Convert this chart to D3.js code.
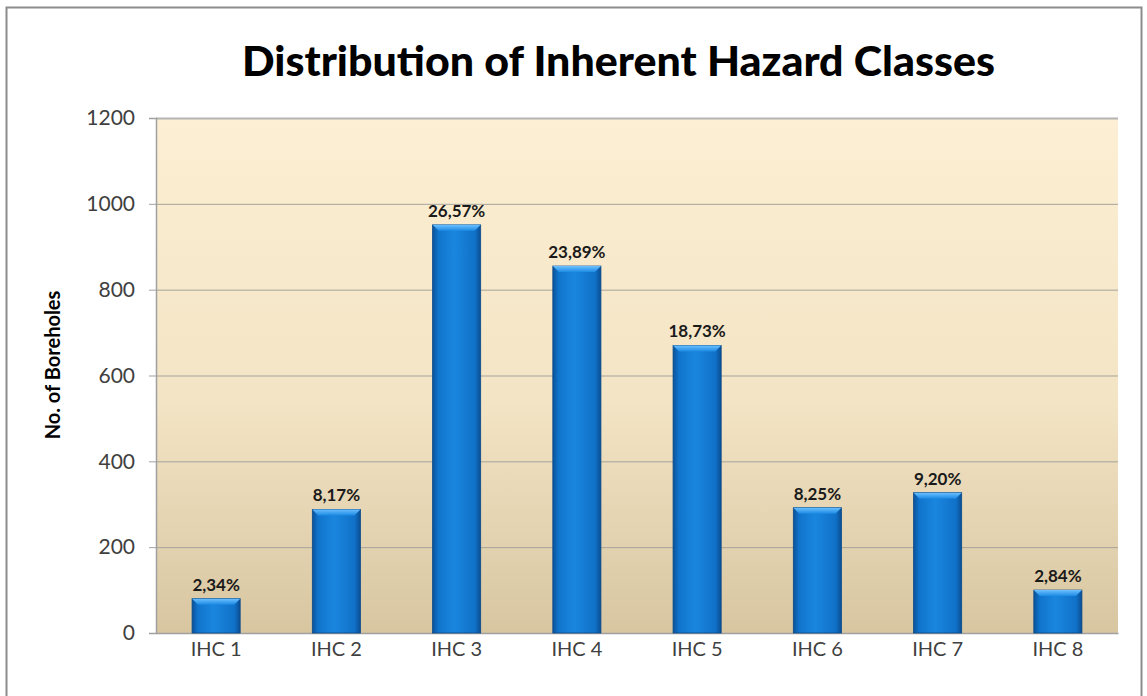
<!DOCTYPE html>
<html>
<head>
<meta charset="utf-8">
<script src="https://cdn.jsdelivr.net/npm/d3@7"></script>
<style>
  body { margin: 0; background: #fff; }
  svg { display: block; }
</style>
</head>
<body>
<script>
// values
const categories = ['IHC 1', 'IHC 2', 'IHC 3', 'IHC 4', 'IHC 5', 'IHC 6', 'IHC 7', 'IHC 8'];
const boreholes = [80, 288, 951, 855, 670, 292, 327, 100];
const percents = ['2,34%', '8,17%', '26,57%', '23,89%', '18,73%', '8,25%', '9,20%', '2,84%'];
const yTicks = [0, 200, 400, 600, 800, 1000, 1200];

const W = 1147, H = 696;
const m = {left: 156, right: 29, top: 118, bottom: 63};

var svg = d3.select('body').append('svg').attr('width', W).attr('height', H);

// outer frame
svg.append('rect').attr('x', 6.5).attr('y', 7.5).attr('width', 1135).attr('height', 700)
  .attr('fill', 'none').attr('stroke', '#8c8c8c').attr('stroke-width', 2);

var defs = svg.append('defs');
var bg = defs.append('linearGradient').attr('id', 'bg').attr('x1', 0).attr('y1', 0).attr('x2', 0).attr('y2', 1);
bg.append('stop').attr('offset', '0%').attr('stop-color', '#fdefd3');
bg.append('stop').attr('offset', '55%').attr('stop-color', '#f3e4c5');
bg.append('stop').attr('offset', '100%').attr('stop-color', '#d8c6a1');

var bar = defs.append('linearGradient').attr('id', 'bar').attr('x1', 0).attr('y1', 0).attr('x2', 1).attr('y2', 0);
bar.append('stop').attr('offset', '0%').attr('stop-color', '#0b5299');
bar.append('stop').attr('offset', '12%').attr('stop-color', '#1074cc');
bar.append('stop').attr('offset', '45%').attr('stop-color', '#1a86de');
bar.append('stop').attr('offset', '88%').attr('stop-color', '#1071c8');
bar.append('stop').attr('offset', '100%').attr('stop-color', '#0a4e92');

var cap = defs.append('linearGradient').attr('id', 'cap').attr('x1', 0).attr('y1', 0).attr('x2', 0).attr('y2', 1);
cap.append('stop').attr('offset', '0%').attr('stop-color', '#6cc0ff');
cap.append('stop').attr('offset', '100%').attr('stop-color', '#1c8ae3');

var x = d3.scaleBand().domain(categories).range([m.left, W - m.right]).paddingInner(0.6).paddingOuter(0.3);
var y = d3.scaleLinear().domain([0, 1200]).range([H - m.bottom, m.top]);

var pw = W - m.right - m.left;
svg.append('rect').attr('x', m.left).attr('y', m.top).attr('width', pw).attr('height', y(0) - m.top)
  .attr('fill', 'url(#bg)');

// gridlines
svg.append('g').selectAll('line').data(yTicks.filter(d => d > 0)).join('line')
  .attr('x1', m.left).attr('x2', W - m.right)
  .attr('y1', d => y(d) + 0.5).attr('y2', d => y(d) + 0.5)
  .attr('stroke', d => d == 1200 ? '#b4b4b4' : '#a5a39c').attr('stroke-width', d => d == 1200 ? 2 : 1);

// y axis
var yAxis = svg.append('g').attr('transform', 'translate(' + m.left + ',0)')
  .call(d3.axisLeft(y).tickValues(yTicks).tickSize(7).tickPadding(14).tickFormat(d3.format('d')));
yAxis.select('.domain').attr('stroke', '#a0a0a0').attr('stroke-width', 1.5);
yAxis.selectAll('.tick line').attr('stroke', '#a0a0a0');
yAxis.selectAll('text').attr('font-family', 'Lato, "Open Sans", sans-serif').attr('font-size', 21).attr('fill', '#404040');

// x axis
var xAxis = svg.append('g').attr('transform', 'translate(0,' + y(0) + ')')
  .call(d3.axisBottom(x).tickSize(0).tickPadding(9));
xAxis.select('.domain').attr('stroke', '#a0a0a0').attr('stroke-width', 1.5);
xAxis.selectAll('text').attr('font-family', 'Lato, "Open Sans", sans-serif').attr('font-size', 20).attr('fill', '#404040');

// bars
var bars = svg.append('g').selectAll('g').data(categories).join('g');
bars.append('rect')
  .attr('x', d => x(d)).attr('y', (d, i) => y(boreholes[i]))
  .attr('width', x.bandwidth()).attr('height', (d, i) => y(0) - y(boreholes[i]))
  .attr('fill', 'url(#bar)').attr('stroke', '#0a4a8a').attr('stroke-width', 0.8);
bars.append('path')
  .attr('d', (d, i) => {
    let x0 = x(d), x1 = x0 + x.bandwidth(), t = y(boreholes[i]), b = 6;
    return 'M' + x0 + ',' + t + 'L' + x1 + ',' + t + 'L' + (x1 - b) + ',' + (t + b) + 'L' + (x0 + b) + ',' + (t + b) + 'Z';
  })
  .attr('fill', 'url(#cap)');

// percentage labels
svg.append('g').selectAll('text').data(categories).join('text')
  .attr('x', d => x(d) + x.bandwidth() / 2)
  .attr('y', (d, i) => y(boreholes[i]) - 8)
  .attr('text-anchor', 'middle')
  .attr('font-family', 'Lato, "Open Sans", sans-serif').attr('font-weight', 'bold')
  .attr('font-size', 17).attr('fill', '#1a1a1a')
  .text((d, i) => percents[i]);

// title
svg.append('text').attr('x', 242).attr('y', 76)
  .attr('font-family', 'Lato, "Open Sans", sans-serif').attr('font-weight', 900).attr('font-size', 41)
  .attr('textLength', 753).attr('lengthAdjust', 'spacingAndGlyphs')
  .text('Distribution of Inherent Hazard Classes');

// axis title
svg.append('text').attr('transform', 'translate(60,365) rotate(-90)')
  .attr('text-anchor', 'middle')
  .attr('font-family', 'Lato, "Open Sans", sans-serif').attr('font-weight', 'bold').attr('font-size', 20)
  .text('No. of Boreholes');
</script>
</body>
</html>
